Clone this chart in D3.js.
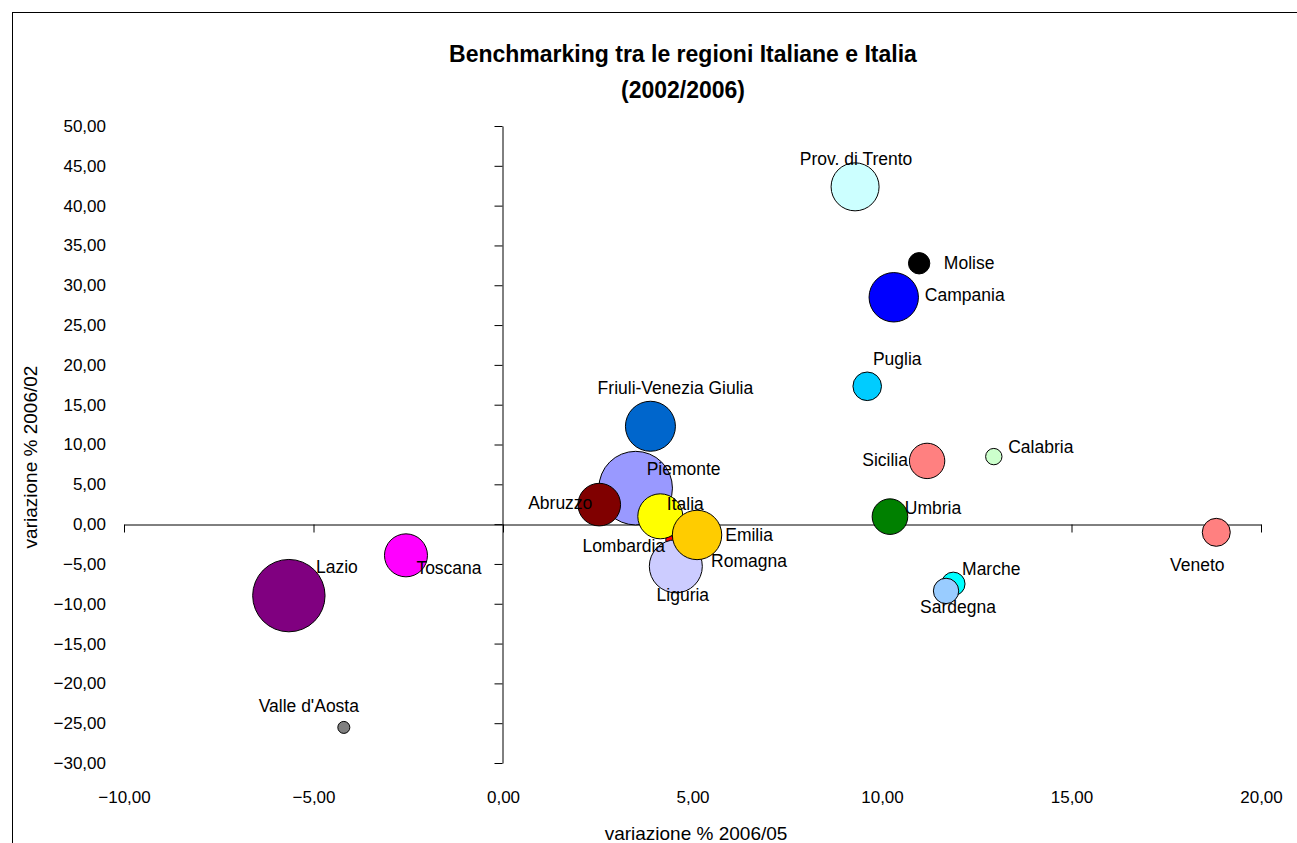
<!DOCTYPE html>
<html>
<head>
<meta charset="utf-8">
<script src="https://cdn.jsdelivr.net/npm/d3@7"></script>
<style>
  html, body { margin: 0; padding: 0; background: #fff; }
  svg { display: block; font-family: "Liberation Sans", Arial, sans-serif; }
</style>
</head>
<body>
<svg id="chart" width="1297" height="843"></svg>
<script>
// Regions, in drawing order (later bubbles sit on top of earlier ones)
const regions = [
  "Lombardia", "Piemonte", "Friuli-Venezia Giulia", "Abruzzo", "Liguria",
  "Italia", "Emilia Romagna", "Prov. di Trento", "Molise", "Campania",
  "Puglia", "Lazio", "Toscana", "Valle d'Aosta", "Sicilia", "Calabria",
  "Umbria", "Veneto", "Marche", "Sardegna"
];
// variazione % 2006/05
const var0605 = [
  4.40, 3.50, 3.89, 2.54, 4.56,
  4.15, 5.12, 9.29, 10.98, 10.31,
  9.61, -5.65, -2.56, -4.20, 11.19, 12.95,
  10.21, 18.82, 11.88, 11.69
];
// variazione % 2006/02
const var0602 = [
  -1.95, 4.52, 12.29, 2.45, -5.30,
  0.98, -1.36, 42.36, 32.76, 28.49,
  17.31, -8.98, -3.92, -25.53, 7.94, 8.48,
  0.94, -1.03, -7.51, -8.39
];
// bubble size
const bubbleSize = [
  1.6, 135.4, 62.5, 45.4, 70.2,
  50.6, 61.0, 57.6, 11.4, 61.0,
  20.4, 131.0, 46.2, 3.6, 31.3, 6.7,
  31.7, 19.6, 13.9, 16.1
];
const fills = [
  "#FF0000", "#9999FF", "#0066CC", "#800000", "#CCCCFF",
  "#FFFF00", "#FFCC00", "#CCFFFF", "#000000", "#0000FF",
  "#00CCFF", "#800080", "#FF00FF", "#808080", "#FF8080", "#CCFFCC",
  "#008000", "#FF8080", "#00FFFF", "#99CCFF"
];
const xTicks = [-10, -5, 0, 5, 10, 15, 20];
const yTicks = [50, 45, 40, 35, 30, 25, 20, 15, 10, 5, 0, -5, -10, -15, -20, -25, -30];

const titleLines = ["Benchmarking tra le regioni Italiane e Italia", "(2002/2006)"];
const xTitle = "variazione % 2006/05";
const yTitle = "variazione % 2006/02";

// Label placement relative to each bubble centre (px), label text may wrap into lines
const labelLayout = {
  "Lombardia": { dx: -46, dy: 12, lines: ["Lombardia"] },
  "Piemonte": { dx: 48, dy: -13, lines: ["Piemonte"] },
  "Friuli-Venezia Giulia": { dx: 25, dy: -32, lines: ["Friuli-Venezia Giulia"] },
  "Abruzzo": { dx: -39, dy: 4, lines: ["Abruzzo"] },
  "Liguria": { dx: 7, dy: 35, lines: ["Liguria"] },
  "Italia": { dx: 25, dy: -6, lines: ["Italia"] },
  "Emilia Romagna": { dx: 52, dy: 6, lines: ["Emilia", "Romagna"] },
  "Prov. di Trento": { dx: 1, dy: -22, lines: ["Prov. di Trento"] },
  "Molise": { dx: 50, dy: 6, lines: ["Molise"] },
  "Campania": { dx: 71, dy: 4, lines: ["Campania"] },
  "Puglia": { dx: 30, dy: -21, lines: ["Puglia"] },
  "Lazio": { dx: 48, dy: -23, lines: ["Lazio"] },
  "Toscana": { dx: 43, dy: 19, lines: ["Toscana"] },
  "Valle d'Aosta": { dx: -35, dy: -15, lines: ["Valle d'Aosta"] },
  "Sicilia": { dx: -42, dy: 5, lines: ["Sicilia"] },
  "Calabria": { dx: 47, dy: -4, lines: ["Calabria"] },
  "Umbria": { dx: 43, dy: -3, lines: ["Umbria"] },
  "Veneto": { dx: -19, dy: 39, lines: ["Veneto"] },
  "Marche": { dx: 38, dy: -9, lines: ["Marche"] },
  "Sardegna": { dx: 12, dy: 22, lines: ["Sardegna"] }
};

const points = regions.map((name, i) => ({
  name, x: var0605[i], y: var0602[i], size: bubbleSize[i], fill: fills[i]
}));

const svg = d3.select("#chart");
const x = d3.scaleLinear().domain([-10, 20]).range([124, 1261]);
const y = d3.scaleLinear().domain([-30, 50]).range([763, 126]);
const r = d3.scaleSqrt().domain([0, d3.max(bubbleSize)]).range([0, 36.8]);

const itLocale = d3.formatLocale({ decimal: ",", thousands: ".", grouping: [3], currency: ["€", ""] });
const fmt = itLocale.format(".2f");

// Chart frame
svg.append("rect")
  .attr("x", 12.5).attr("y", 12.5)
  .attr("width", 1300).attr("height", 840)
  .attr("fill", "none").attr("stroke", "#000").attr("stroke-width", 1);

// Title
svg.append("g").selectAll("text").data(titleLines).join("text")
  .attr("x", 683).attr("y", (d, i) => 62 + i * 36)
  .attr("text-anchor", "middle")
  .attr("font-size", 23).attr("font-weight", "bold")
  .attr("fill", "#000")
  .text(d => d);

// Axis lines crossing at the origin, ticks only
const xAxisLine = svg.append("g")
  .attr("transform", `translate(0,${Math.round(y(0)) + 0.5})`)
  .call(d3.axisBottom(x).tickValues(xTicks).tickSize(8).tickSizeOuter(0).tickFormat(""));
const yAxisLine = svg.append("g")
  .attr("transform", `translate(${Math.round(x(0)) - 0.5},0)`)
  .call(d3.axisLeft(y).tickValues(yTicks).tickSize(8).tickSizeOuter(0).tickFormat(""));
[xAxisLine, yAxisLine].forEach(g => {
  g.selectAll("path.domain").attr("stroke", "#000");
  g.selectAll(".tick line").attr("stroke", "#000");
});

// Tick labels along the chart edges
const xLabels = svg.append("g")
  .attr("transform", "translate(0,791)")
  .call(d3.axisBottom(x).tickValues(xTicks).tickSize(0).tickPadding(0).tickFormat(fmt));
const yLabels = svg.append("g")
  .attr("transform", "translate(106,0)")
  .call(d3.axisLeft(y).tickValues(yTicks).tickSize(0).tickPadding(0).tickFormat(fmt));
[xLabels, yLabels].forEach(g => {
  g.select("path.domain").remove();
  g.selectAll("text").attr("font-size", 17).attr("fill", "#000")
    .attr("font-family", "'Liberation Sans', Arial, sans-serif");
});

// Axis titles
svg.append("text")
  .attr("x", 696).attr("y", 840)
  .attr("text-anchor", "middle").attr("font-size", 19).attr("fill", "#000")
  .text(xTitle);
svg.append("text")
  .attr("transform", "translate(37,457) rotate(-90)")
  .attr("text-anchor", "middle").attr("font-size", 19).attr("fill", "#000")
  .text(yTitle);

// Bubbles
svg.append("g").selectAll("circle").data(points).join("circle")
  .attr("cx", d => x(d.x)).attr("cy", d => y(d.y)).attr("r", d => r(d.size))
  .attr("fill", d => d.fill)
  .attr("stroke", "#000").attr("stroke-width", 1);

// Data labels
const labels = svg.append("g").selectAll("text").data(points).join("text")
  .attr("text-anchor", "middle").attr("font-size", 17.5).attr("fill", "#000")
  .attr("x", d => x(d.x) + labelLayout[d.name].dx)
  .attr("y", d => y(d.y) + labelLayout[d.name].dy);
labels.selectAll("tspan").data(d => labelLayout[d.name].lines.map(t => ({ t, d }))).join("tspan")
  .attr("x", o => x(o.d.x) + labelLayout[o.d.name].dx)
  .attr("dy", (o, i) => i === 0 ? 0 : 26)
  .text(o => o.t);
</script>
</body>
</html>
